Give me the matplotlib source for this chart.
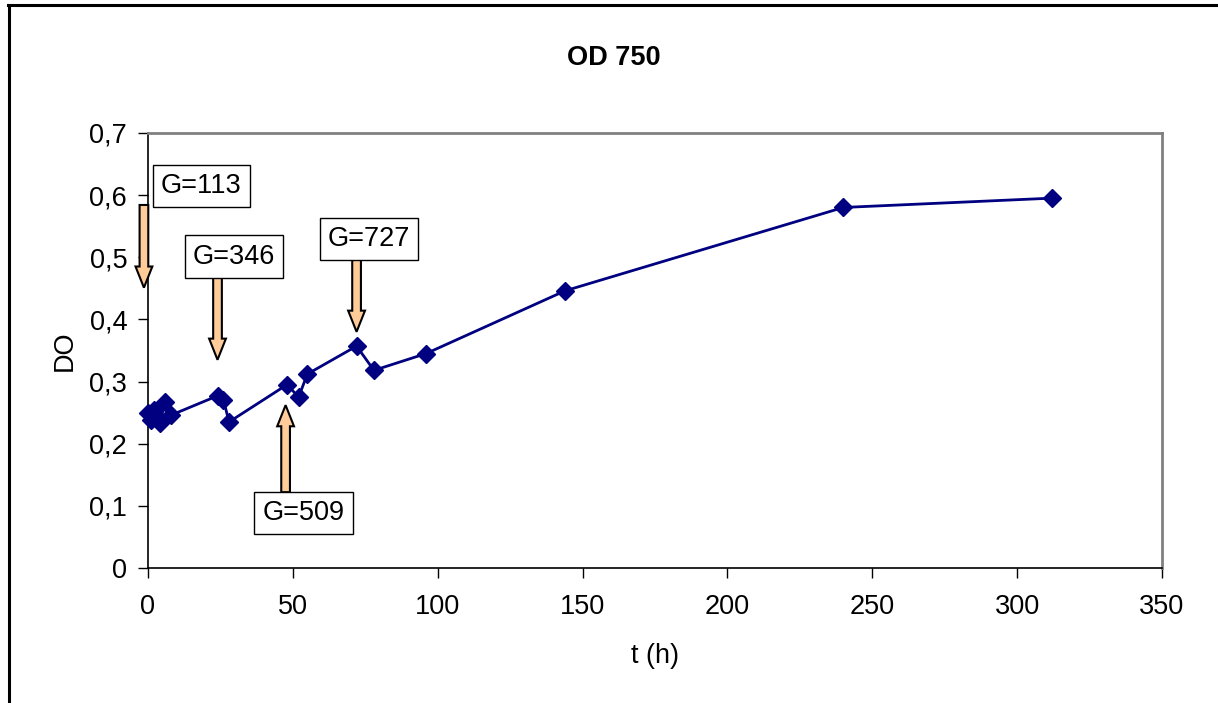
import numpy as np
import matplotlib.pyplot as plt
from matplotlib.lines import Line2D
from matplotlib.patches import FancyArrow

plt.rcParams['font.family'] = ['Liberation Sans', 'DejaVu Sans']

# growth curve
t_h = [0, 1, 2, 4, 6, 8, 24, 26, 28, 48, 52, 55, 72, 78, 96, 144, 240, 312]
od = [0.249, 0.238, 0.254, 0.233, 0.267, 0.246, 0.277, 0.271, 0.235,
      0.295, 0.275, 0.312, 0.357, 0.318, 0.345, 0.446, 0.580, 0.595]

# glucose additions: label, time of addition
g_labels = ['G=113', 'G=346', 'G=509', 'G=727']
g_times = [-1.4, 24, 47.5, 72]

fs = 19.5

fig = plt.figure(figsize=(12.18, 7.03), dpi=100)
ax = fig.add_axes([0.1215, 0.192, 0.8325, 0.619])

ax.plot(t_h, od, color='#000080', lw=2, marker='D', markersize=9.5,
        clip_on=False, zorder=5)

ax.set_xlim(0, 350)
ax.set_ylim(0, 0.7)
ax.set_xticks(np.arange(0, 351, 50))
ax.set_yticks(np.arange(0, 0.71, 0.1))
ax.set_yticklabels(['0' if v == 0 else f'{v:.1f}'.replace('.', ',')
                    for v in np.arange(0, 0.71, 0.1)])
ax.tick_params(direction='out', length=7, width=1, labelsize=fs)
ax.tick_params(axis='x', pad=12)
ax.tick_params(axis='y', pad=8)
for side in ['top', 'right']:
    ax.spines[side].set_color('#808080')
    ax.spines[side].set_linewidth(2)
for side in ['left', 'bottom']:
    ax.spines[side].set_linewidth(1.2)

ax.set_xlabel('t (h)', fontsize=fs, labelpad=16)
ax.set_ylabel('DO', fontsize=fs, labelpad=8)
fig.text(0.504, 0.918, 'OD 750', fontsize=fs, fontweight='bold',
         ha='center', va='center')

# arrows: (start y, end y) in OD units
arrow_spans = [(0.584, 0.451), (0.469, 0.335), (0.122, 0.262), (0.511, 0.380)]
box_pos = [(18.3, 0.615), (29.7, 0.501), (53.7, 0.089), (76.3, 0.529)]

for lab, tx, (y0, y1), (bx, by) in zip(g_labels, g_times, arrow_spans, box_pos):
    arr = FancyArrow(tx, y0, 0, y1 - y0, width=3.0, head_width=5.8,
                     head_length=0.034, length_includes_head=True,
                     fc='#FFCC99', ec='black', lw=1.5, clip_on=False, zorder=4)
    ax.add_patch(arr)
    ax.text(bx, by, lab, fontsize=fs, ha='center', va='center', zorder=6,
            bbox=dict(boxstyle='square,pad=0.3', fc='white', ec='black', lw=1))

# chart border, cut at the right and bottom
fig.add_artist(Line2D([0.0075, 0.0075], [0, 0.993], color='black', lw=2.2,
                      transform=fig.transFigure))
fig.add_artist(Line2D([0.0066, 1], [0.993, 0.993], color='black', lw=2.2,
                      transform=fig.transFigure))

fig.savefig('out.png', dpi=100)
